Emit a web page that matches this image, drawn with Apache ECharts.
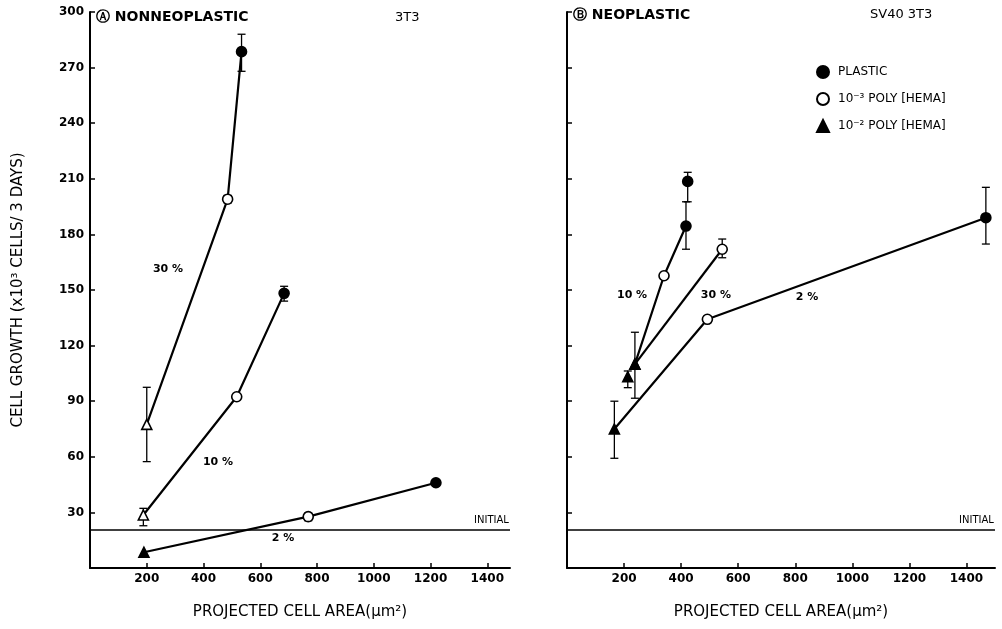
<!DOCTYPE html>
<html>
<head>
<meta charset="utf-8">
<script src="https://cdn.jsdelivr.net/npm/echarts@6/dist/echarts.min.js"></script>
<style>
  html, body { margin: 0; padding: 0; background: #fff; }
  #main { width: 1002px; height: 629px; }
</style>
</head>
<body>
<div id="main"></div>
<script>
// axis ticks
var yTicks = [0, 30, 60, 90, 120, 150, 180, 210, 240, 270, 300];
var xTicks = [0, 200, 400, 600, 800, 1000, 1200, 1400];
var initialLevel = 20.5;

// A nonneoplastic 3T3  (marker kinds: triO open triangle, triF filled, circO open circle, circF plastic)
var a30X = [200, 485, 534];
var a30Y = [77.5, 199, 278.6];
var a30K = ['triO', 'circO', 'circF'];
var a10X = [188, 517, 684];
var a10Y = [28.6, 92.4, 148.2];
var a10K = ['triO', 'circO', 'circF'];
var a2X = [190, 769, 1219];
var a2Y = [8.5, 27.7, 46];
var a2K = ['triF', 'circO', 'circF'];
// error bars [x, low, high]
var aErr = [
    [200, 57.4, 97.5], [485, 197, 201], [534, 268, 288],
    [188, 22.8, 32.2], [684, 144, 152],
    [769, 25.5, 29.5]
];

// B neoplastic SV40 3T3
var b10X = [238, 340, 417];
var b10Y = [110, 157.7, 184.5];
var b10K = ['triF', 'circO', 'circF'];
var b30X = [238, 544];
var b30Y = [110, 172];
var b30K = ['triF', 'circO'];
var b2X = [166, 492, 1468];
var b2Y = [75, 134.2, 189];
var b2K = ['triF', 'circO', 'circF'];
var bExtraX = [213, 423];
var bExtraY = [103.2, 208.6];
var bExtraK = ['triF', 'circF'];
var bErr = [
    [238, 91.6, 127.2], [417, 172, 197.6], [544, 167.4, 177.5],
    [213, 97.3, 106.3], [423, 197.6, 213.5],
    [166, 59.2, 90], [1468, 174.8, 205.4]
];

// line labels [text, x, y]
var aNotes = [['30 %', 275, 161], ['10 %', 451, 57], ['2 %', 680, 16]];
var bNotes = [['10 %', 228, 147], ['30 %', 522, 147], ['2 %', 841, 146]];

var FONT = 'DejaVu Sans';

var myChart = echarts.init(document.getElementById('main'));

function markerItem(x, y, k) {
    var tri = k.indexOf('tri') === 0;
    var open = k.charAt(k.length - 1) === 'O';
    return {
        value: [x, y],
        symbol: tri ? 'triangle' : 'circle',
        symbolSize: 10,
        itemStyle: { color: open ? '#fff' : '#000', borderColor: '#000', borderWidth: 1.6, opacity: 1 }
    };
}

function lineSeries(idx, xs, ys, ks, noLine) {
    var data = xs.map(function (x, i) { return markerItem(x, ys[i], ks[i]); });
    return {
        type: noLine ? 'scatter' : 'line',
        xAxisIndex: idx, yAxisIndex: idx,
        data: data,
        showAllSymbol: true,
        itemStyle: { opacity: 1 },
        lineStyle: { color: '#000', width: 2.2 },
        z: 5,
        animation: false,
        silent: true
    };
}

function errSeries(idx, data) {
    return {
        type: 'custom',
        xAxisIndex: idx, yAxisIndex: idx,
        data: data,
        z: 3,
        silent: true,
        animation: false,
        renderItem: function (params, api) {
            var x = api.value(0);
            var lo = api.coord([x, api.value(1)]);
            var hi = api.coord([x, api.value(2)]);
            var w = 4;
            var st = { stroke: '#000', lineWidth: 1.3 };
            return {
                type: 'group',
                children: [
                    { type: 'line', shape: { x1: lo[0], y1: lo[1], x2: hi[0], y2: hi[1] }, style: st },
                    { type: 'line', shape: { x1: lo[0] - w, y1: lo[1], x2: lo[0] + w, y2: lo[1] }, style: st },
                    { type: 'line', shape: { x1: hi[0] - w, y1: hi[1], x2: hi[0] + w, y2: hi[1] }, style: st }
                ]
            };
        }
    };
}

function noteSeries(idx, notes) {
    return {
        type: 'scatter',
        xAxisIndex: idx, yAxisIndex: idx,
        symbolSize: 0,
        itemStyle: { opacity: 1 },
        data: notes.map(function (n) { return { name: n[0], value: [n[1], n[2]] }; }),
        label: {
            show: true, position: 'inside', formatter: '{b}', opacity: 1,
            color: '#000', fontFamily: FONT, fontWeight: 'bold', fontSize: 11
        },
        silent: true, animation: false
    };
}

function initialSeries(idx, xmax) {
    return {
        type: 'line',
        xAxisIndex: idx, yAxisIndex: idx,
        data: [[0, initialLevel], [xmax, initialLevel]],
        symbol: 'none',
        lineStyle: { color: '#000', width: 1.5 },
        silent: true, animation: false,
        endLabel: {
            show: true, formatter: 'INITIAL', color: '#000',
            fontFamily: FONT, fontSize: 10, offset: [-44, -10]
        }
    };
}

function xAxisOpt(idx, max) {
    return {
        type: 'value', gridIndex: idx, min: 0, max: max, interval: 200,
        name: 'PROJECTED CELL AREA(μm²)', nameLocation: 'middle', nameGap: 37,
        nameTextStyle: { color: '#000', fontFamily: FONT, fontSize: 15 },
        axisLine: { lineStyle: { color: '#000', width: 2 } },
        axisTick: { inside: true, length: 5, lineStyle: { color: '#000', width: 1.5 } },
        axisLabel: {
            color: '#000', fontFamily: FONT, fontWeight: 'bold', fontSize: 12, margin: 5,
            formatter: function (v) { return v === 0 ? '' : v; }
        },
        splitLine: { show: false }
    };
}

function yAxisOpt(idx, labels) {
    return {
        type: 'value', gridIndex: idx, min: 0, max: 300, interval: 30,
        name: labels ? 'CELL GROWTH (x10³ CELLS/ 3 DAYS)' : '',
        nameLocation: 'middle', nameGap: 64,
        nameTextStyle: { color: '#000', fontFamily: FONT, fontSize: 15 },
        axisLine: { show: true, lineStyle: { color: '#000', width: 2 } },
        axisTick: { show: true, inside: true, length: 5, lineStyle: { color: '#000', width: 1.5 } },
        axisLabel: {
            show: labels, color: '#000', fontFamily: FONT, fontWeight: 'bold', fontSize: 12, margin: 6,
            formatter: function (v) { return v === 0 ? '' : v; }
        },
        splitLine: { show: false }
    };
}

var option = {
    backgroundColor: '#fff',
    animation: false,
    grid: [
        { left: 90, top: 12, width: 420, height: 556 },
        { left: 567, top: 12, width: 428, height: 556 }
    ],
    xAxis: [xAxisOpt(0, 1480), xAxisOpt(1, 1500)],
    yAxis: [yAxisOpt(0, true), yAxisOpt(1, false)],
    legend: {
        orient: 'vertical', left: 811, top: 60, itemGap: 13,
        itemWidth: 12, itemHeight: 12,
        textStyle: { color: '#000', fontFamily: FONT, fontSize: 12, padding: [0, 0, 0, 4] },
        data: ['PLASTIC', '10⁻³ POLY [HEMA]', '10⁻² POLY [HEMA]']
    },
    graphic: [
        { type: 'text', left: 96, top: 10, style: { text: 'Ⓐ NONNEOPLASTIC', fill: '#000', font: 'bold 14px "DejaVu Sans"' } },
        { type: 'text', left: 395, top: 11, style: { text: '3T3', fill: '#000', font: '13px "DejaVu Sans"' } },
        { type: 'text', left: 573, top: 8, style: { text: 'Ⓑ NEOPLASTIC', fill: '#000', font: 'bold 14px "DejaVu Sans"' } },
        { type: 'text', left: 870, top: 8, style: { text: 'SV40 3T3', fill: '#000', font: '13px "DejaVu Sans"' } }
    ],
    series: [
        errSeries(0, aErr),
        lineSeries(0, a30X, a30Y, a30K),
        lineSeries(0, a10X, a10Y, a10K),
        lineSeries(0, a2X, a2Y, a2K),
        noteSeries(0, aNotes),
        initialSeries(0, 1480),
        errSeries(1, bErr),
        lineSeries(1, b10X, b10Y, b10K),
        lineSeries(1, b30X, b30Y, b30K),
        lineSeries(1, b2X, b2Y, b2K),
        lineSeries(1, bExtraX, bExtraY, bExtraK, true),
        noteSeries(1, bNotes),
        initialSeries(1, 1500),
        // legend entries
        { name: 'PLASTIC', type: 'scatter', xAxisIndex: 1, yAxisIndex: 1, data: [], symbol: 'circle',
          itemStyle: { color: '#000', borderColor: '#000', borderWidth: 1.5, opacity: 1 } },
        { name: '10⁻³ POLY [HEMA]', type: 'scatter', xAxisIndex: 1, yAxisIndex: 1, data: [], symbol: 'circle',
          itemStyle: { color: '#fff', borderColor: '#000', borderWidth: 1.5, opacity: 1 } },
        { name: '10⁻² POLY [HEMA]', type: 'scatter', xAxisIndex: 1, yAxisIndex: 1, data: [], symbol: 'triangle',
          itemStyle: { color: '#000', borderColor: '#000', borderWidth: 1.5, opacity: 1 } }
    ]
};

myChart.setOption(option);
</script>
</body>
</html>
